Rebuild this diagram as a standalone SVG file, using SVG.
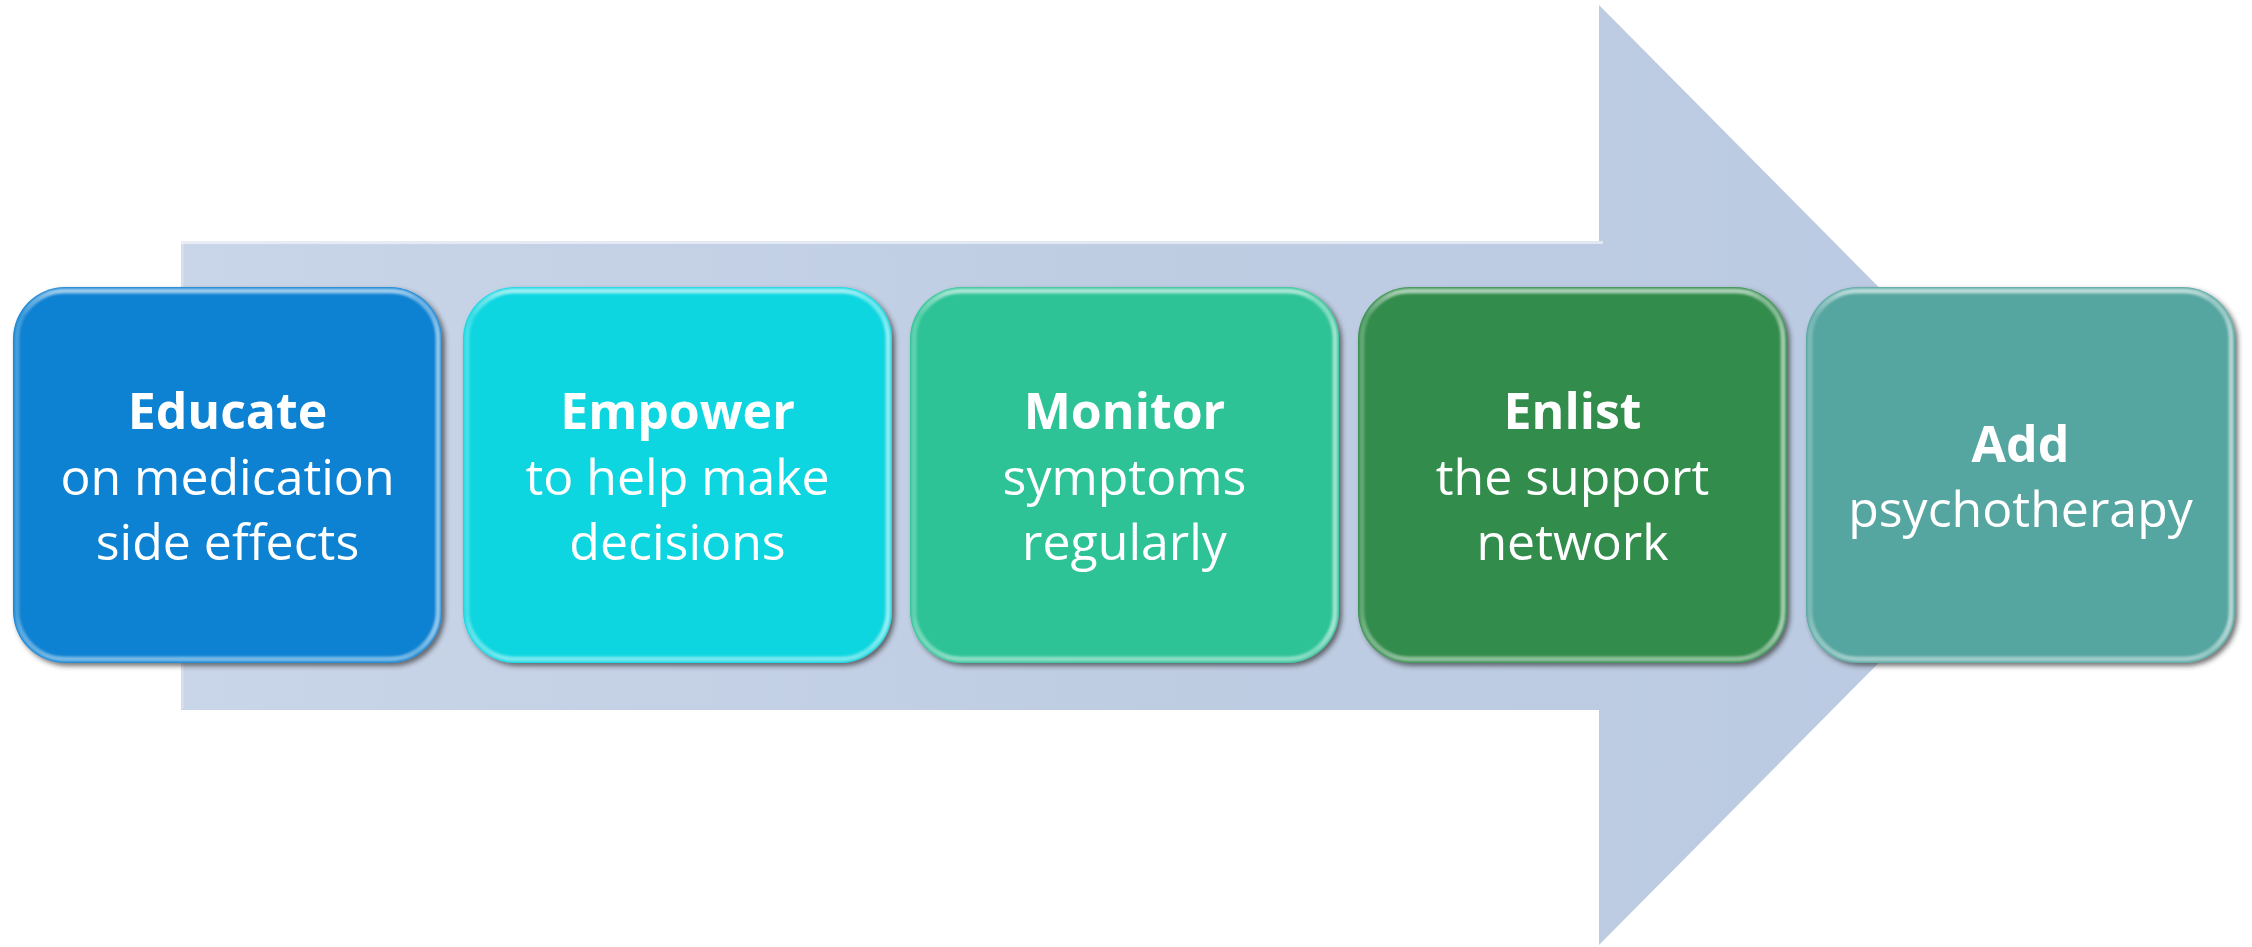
<svg xmlns="http://www.w3.org/2000/svg" width="2252" height="947" viewBox="0 0 2252 947">
  <defs>
    <style>
      .label { font-family: "Open Sans", "Liberation Sans", sans-serif; font-size: 50px; fill: #ffffff; text-anchor: middle; }
      .title { font-weight: 700; }
      .shadow { filter: url(#boxShadow); }
      .bevelV { fill: none; stroke: url(#bevelV); stroke-width: 5; filter: url(#soft); }
      .bevelH { fill: none; stroke: url(#bevelH); stroke-width: 5; filter: url(#soft); }
    </style>
    <linearGradient id="arrowFill" x1="0" y1="0" x2="1" y2="0">
      <stop offset="0" stop-color="#C9D5E8"/>
      <stop offset="0.5" stop-color="#BFCDE3"/>
      <stop offset="1" stop-color="#BACAE2"/>
    </linearGradient>
    <linearGradient id="bevelV" x1="0" y1="0" x2="0" y2="1">
      <stop offset="0" stop-color="#ffffff" stop-opacity="0.6"/>
      <stop offset="0.07" stop-color="#ffffff" stop-opacity="0"/>
      <stop offset="0.88" stop-color="#ffffff" stop-opacity="0"/>
      <stop offset="1" stop-color="#ffffff" stop-opacity="0.45"/>
    </linearGradient>
    <linearGradient id="bevelH" x1="0" y1="0" x2="1" y2="0">
      <stop offset="0" stop-color="#ffffff" stop-opacity="0.25"/>
      <stop offset="0.05" stop-color="#ffffff" stop-opacity="0"/>
      <stop offset="0.95" stop-color="#ffffff" stop-opacity="0"/>
      <stop offset="1" stop-color="#ffffff" stop-opacity="0.55"/>
    </linearGradient>
    <filter id="boxShadow" x="-5%" y="-5%" width="112%" height="112%">
      <feDropShadow dx="3" dy="3" stdDeviation="2.5" flood-color="#2a2a2a" flood-opacity="0.65"/>
    </filter>
    <filter id="soft" x="-5%" y="-5%" width="110%" height="110%">
      <feGaussianBlur stdDeviation="1"/>
    </filter>
    <rect id="box" width="429" height="376" rx="52" ry="52"/>
    <rect id="boxInner" x="4" y="4" width="421" height="368" rx="48" ry="48"/>
  </defs>

  <rect width="2252" height="947" fill="#ffffff"/>

  <!-- Big block arrow running behind the steps -->
  <g id="connectors">
    <polygon id="flow-arrow" points="181,241 1599,241 1599,5 2065,475 1599,945 1599,710 181,710" fill="url(#arrowFill)"/>
    <line x1="181" y1="242.5" x2="1603" y2="242.5" stroke="#ffffff" stroke-opacity="0.55" stroke-width="3"/>
    <line x1="182.5" y1="242" x2="182.5" y2="709" stroke="#ffffff" stroke-opacity="0.3" stroke-width="2"/>
  </g>

  <!-- Step boxes -->
  <g id="node-educate" transform="translate(13,287)">
    <use href="#box" class="shadow" fill="#1181D2"/>
    <use href="#boxInner" class="bevelV"/>
    <use href="#boxInner" class="bevelH"/>
    <text class="label title" x="214.5" y="142">Educate</text>
    <text class="label" x="214.5" y="208">on medication</text>
    <text class="label" x="214.5" y="273">side effects</text>
  </g>

  <g id="node-empower" transform="translate(463,287)">
    <use href="#box" class="shadow" fill="#10D6E1"/>
    <use href="#boxInner" class="bevelV"/>
    <use href="#boxInner" class="bevelH"/>
    <text class="label title" x="214.5" y="142">Empower</text>
    <text class="label" x="214.5" y="208">to help make</text>
    <text class="label" x="214.5" y="273">decisions</text>
  </g>

  <g id="node-monitor" transform="translate(910,287)">
    <use href="#box" class="shadow" fill="#2EC396"/>
    <use href="#boxInner" class="bevelV"/>
    <use href="#boxInner" class="bevelH"/>
    <text class="label title" x="214.5" y="142">Monitor</text>
    <text class="label" x="214.5" y="208">symptoms</text>
    <text class="label" x="214.5" y="273">regularly</text>
  </g>

  <g id="node-enlist" transform="translate(1358,287)">
    <use href="#box" class="shadow" fill="#338C4C"/>
    <use href="#boxInner" class="bevelV"/>
    <use href="#boxInner" class="bevelH"/>
    <text class="label title" x="214.5" y="142">Enlist</text>
    <text class="label" x="214.5" y="208">the support</text>
    <text class="label" x="214.5" y="273">network</text>
  </g>

  <g id="node-add" transform="translate(1806,287)">
    <use href="#box" class="shadow" fill="#54A5A0"/>
    <use href="#boxInner" class="bevelV"/>
    <use href="#boxInner" class="bevelH"/>
    <text class="label title" x="214.5" y="175">Add</text>
    <text class="label" x="214.5" y="240">psychotherapy</text>
  </g>
</svg>
